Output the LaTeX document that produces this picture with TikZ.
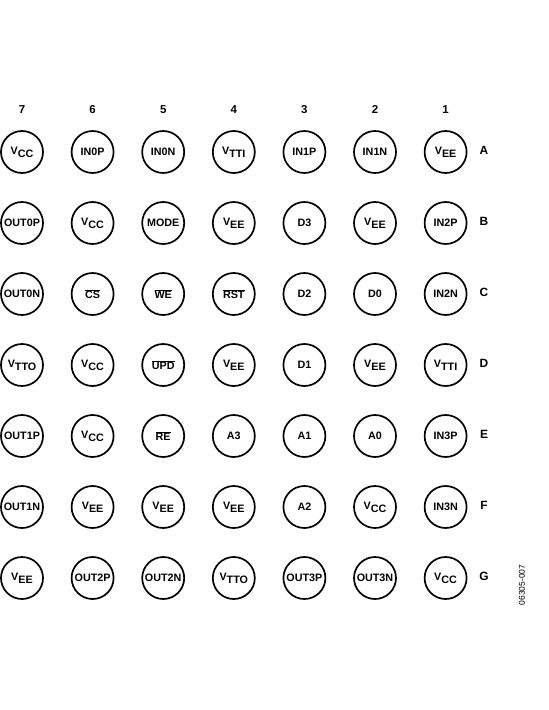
\documentclass[tikz,border=0pt]{standalone}
\usepackage{fontspec}
\setmainfont{Liberation Sans}
\newcommand\pinsub[2]{#1\raisebox{-3bp}{#2}}
\newcommand\pinbar[1]{$\overline{\hbox{#1}}$}
\tikzset{
  pin/.style={circle, draw, line width=1.7bp, minimum size=42bp, inner sep=0pt,
              font=\fontsize{10.8}{12}\selectfont\bfseries},
  colnum/.style={font=\fontsize{11.5}{13}\selectfont\bfseries},
  rowlet/.style={font=\fontsize{12}{14}\selectfont\bfseries},
  figid/.style={font=\fontsize{8.5}{10}\selectfont, rotate=90}
}
\begin{document}
\begin{tikzpicture}[x=1bp,y=-1bp]
\useasboundingbox (0,0) rectangle (549,710);
% column positions (pin 7 ... 1)
\def\cA{22}\def\cB{92.6}\def\cC{163.2}\def\cD{233.8}\def\cE{304.4}\def\cF{375}\def\cG{445.6}
% column numbers
\node[colnum] (n7) at (\cA,110) {7};
\node[colnum] (n6) at (\cB,110) {6};
\node[colnum] (n5) at (\cC,110) {5};
\node[colnum] (n4) at (\cD,110) {4};
\node[colnum] (n3) at (\cE,110) {3};
\node[colnum] (n2) at (\cF,110) {2};
\node[colnum] (n1) at (\cG,110) {1};
% row A
\node[pin] (A7) at (\cA,152) {\pinsub{V}{CC}};
\node[pin] (A6) at (\cB,152) {IN0P};
\node[pin] (A5) at (\cC,152) {IN0N};
\node[pin] (A4) at (\cD,152) {\pinsub{V}{TTI}};
\node[pin] (A3) at (\cE,152) {IN1P};
\node[pin] (A2) at (\cF,152) {IN1N};
\node[pin] (A1) at (\cG,152) {\pinsub{V}{EE}};
\node[rowlet] (rA) at (484,150) {A};
% row B
\node[pin] (B7) at (\cA,223) {OUT0P};
\node[pin] (B6) at (\cB,223) {\pinsub{V}{CC}};
\node[pin] (B5) at (\cC,223) {MODE};
\node[pin] (B4) at (\cD,223) {\pinsub{V}{EE}};
\node[pin] (B3) at (\cE,223) {D3};
\node[pin] (B2) at (\cF,223) {\pinsub{V}{EE}};
\node[pin] (B1) at (\cG,223) {IN2P};
\node[rowlet] (rB) at (484,221) {B};
% row C
\node[pin] (C7) at (\cA,294) {OUT0N};
\node[pin] (C6) at (\cB,294) {\pinbar{CS}};
\node[pin] (C5) at (\cC,294) {\pinbar{WE}};
\node[pin] (C4) at (\cD,294) {\pinbar{RST}};
\node[pin] (C3) at (\cE,294) {D2};
\node[pin] (C2) at (\cF,294) {D0};
\node[pin] (C1) at (\cG,294) {IN2N};
\node[rowlet] (rC) at (484,292) {C};
% row D
\node[pin] (D7) at (\cA,365) {\pinsub{V}{TTO}};
\node[pin] (D6) at (\cB,365) {\pinsub{V}{CC}};
\node[pin] (D5) at (\cC,365) {\pinbar{UPD}};
\node[pin] (D4) at (\cD,365) {\pinsub{V}{EE}};
\node[pin] (D3) at (\cE,365) {D1};
\node[pin] (D2) at (\cF,365) {\pinsub{V}{EE}};
\node[pin] (D1) at (\cG,365) {\pinsub{V}{TTI}};
\node[rowlet] (rD) at (484,363) {D};
% row E
\node[pin] (E7) at (\cA,436) {OUT1P};
\node[pin] (E6) at (\cB,436) {\pinsub{V}{CC}};
\node[pin] (E5) at (\cC,436) {\pinbar{RE}};
\node[pin] (E4) at (\cD,436) {A3};
\node[pin] (E3) at (\cE,436) {A1};
\node[pin] (E2) at (\cF,436) {A0};
\node[pin] (E1) at (\cG,436) {IN3P};
\node[rowlet] (rE) at (484,434) {E};
% row F
\node[pin] (F7) at (\cA,507) {OUT1N};
\node[pin] (F6) at (\cB,507) {\pinsub{V}{EE}};
\node[pin] (F5) at (\cC,507) {\pinsub{V}{EE}};
\node[pin] (F4) at (\cD,507) {\pinsub{V}{EE}};
\node[pin] (F3) at (\cE,507) {A2};
\node[pin] (F2) at (\cF,507) {\pinsub{V}{CC}};
\node[pin] (F1) at (\cG,507) {IN3N};
\node[rowlet] (rF) at (484,505) {F};
% row G
\node[pin] (G7) at (\cA,578) {\pinsub{V}{EE}};
\node[pin] (G6) at (\cB,578) {OUT2P};
\node[pin] (G5) at (\cC,578) {OUT2N};
\node[pin] (G4) at (\cD,578) {\pinsub{V}{TTO}};
\node[pin] (G3) at (\cE,578) {OUT3P};
\node[pin] (G2) at (\cF,578) {OUT3N};
\node[pin] (G1) at (\cG,578) {\pinsub{V}{CC}};
\node[rowlet] (rG) at (484,576) {G};
% figure id
\node[figid] (fid) at (522,585) {06305-007};
\end{tikzpicture}
\end{document}
